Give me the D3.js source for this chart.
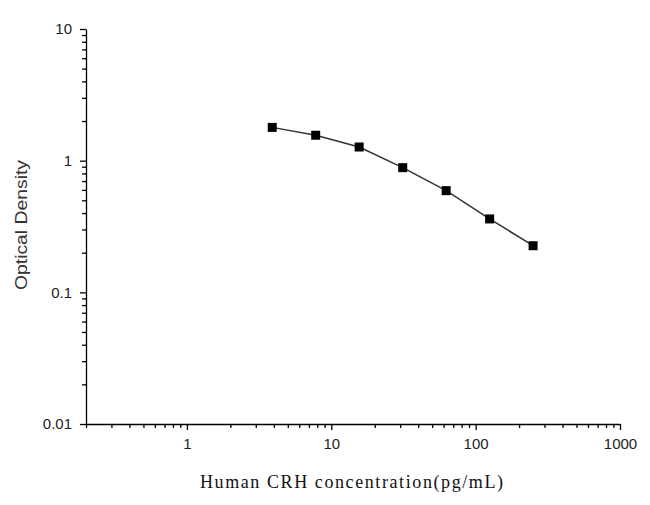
<!DOCTYPE html>
<html>
<head>
<meta charset="utf-8">
<script src="https://cdn.jsdelivr.net/npm/d3@7"></script>
<style>
  body { margin: 0; background: #fff; }
  .axis path, .axis line { stroke: #000; stroke-width: 1.3; }
  .axis text { font-family: "Liberation Sans", Arial, sans-serif; font-size: 15px; fill: #222; }
</style>
</head>
<body>
<svg id="chart" width="650" height="505"></svg>
<script>
// standard concentrations (pg/mL) and measured OD
var concentration = [3.9, 7.8, 15.6, 31.25, 62.5, 125, 250];
var opticalDensity = [1.79, 1.56, 1.27, 0.885, 0.592, 0.361, 0.226];
var xTickValues = [1, 10, 100, 1000];
var yTickValues = [0.01, 0.1, 1, 10];

var svg = d3.select("#chart");

var x = d3.scaleLog().domain([0.2, 1000]).range([86, 620]);
var y = d3.scaleLog().domain([0.01, 10]).range([424, 29]);

function minorTicks(scale){
	var d = scale.domain(), out = [];
	for (var e = Math.floor(Math.log10(d[0])); e < Math.log10(d[1]); e++){
		for (var k = 2; k <= 9; k++){
			var v = k * Math.pow(10, e);
			if (v >= d[0] && v <= d[1]) out.push(v);
		}
	}
	return out;
}

// x axis
svg.append("g")
	.attr("class", "axis")
	.attr("transform", "translate(0,424)")
	.call(d3.axisBottom(x).tickValues(minorTicks(x)).tickSize(4).tickFormat(""))
	.select(".domain").remove();

svg.append("g")
	.attr("class", "axis")
	.attr("transform", "translate(0,424)")
	.call(d3.axisBottom(x).tickValues(xTickValues).tickSize(6).tickSizeOuter(0).tickPadding(8)
		.tickFormat(d3.format("d")));

// y axis
svg.append("g")
	.attr("class", "axis")
	.attr("transform", "translate(86,0)")
	.call(d3.axisLeft(y).tickValues(minorTicks(y)).tickSize(4).tickFormat(""))
	.select(".domain").remove();

svg.append("g")
	.attr("class", "axis")
	.attr("transform", "translate(86,0)")
	.call(d3.axisLeft(y).tickValues(yTickValues).tickSize(6).tickSizeOuter(0).tickPadding(8)
		.tickFormat(function(d){ return d >= 1 ? d3.format("d")(d) : String(d); }));

// curve
var line = d3.line()
	.x(function(d, i){ return x(concentration[i]); })
	.y(function(d){ return y(d); });

svg.append("path")
	.datum(opticalDensity)
	.attr("d", line)
	.attr("fill", "none")
	.attr("stroke", "#333")
	.attr("stroke-width", 1.5);

svg.selectAll("rect.pt")
	.data(opticalDensity)
	.enter()
	.append("rect")
	.attr("class", "pt")
	.attr("x", function(d, i){ return x(concentration[i]) - 4.5; })
	.attr("y", function(d){ return y(d) - 4.5; })
	.attr("width", 9)
	.attr("height", 9)
	.attr("fill", "#000");

// titles
svg.append("text")
	.attr("x", 200)
	.attr("y", 488)
	.attr("textLength", 303)
	.attr("lengthAdjust", "spacing")
	.style("font-family", "'Liberation Serif', 'Times New Roman', serif")
	.style("font-size", "18px")
	.style("fill", "#111")
	.text("Human CRH concentration(pg/mL)");

svg.append("text")
	.attr("transform", "translate(27,290) rotate(-90)")
	.attr("textLength", 130)
	.attr("lengthAdjust", "spacingAndGlyphs")
	.style("font-family", "'Liberation Sans', Arial, sans-serif")
	.style("font-size", "17px")
	.style("fill", "#333")
	.text("Optical Density");
</script>
</body>
</html>
